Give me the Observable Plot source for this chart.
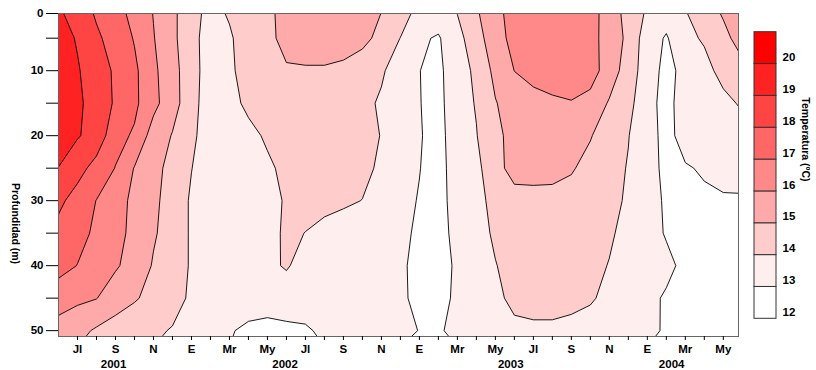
<!DOCTYPE html>
<html><head><meta charset="utf-8">
<script src="https://cdn.jsdelivr.net/npm/d3@7"></script>
<script src="https://cdn.jsdelivr.net/npm/@observablehq/plot@0.6"></script>
<style>
body{margin:0;background:#fff}
#chart{position:relative;width:816px;height:370px;overflow:hidden;background:#fff}
#main{position:absolute;left:0;top:0}
#legend{position:absolute;left:745px;top:0}
</style></head>
<body><div id="chart"><div id="main"></div><div id="legend"></div></div>
<script>
// Sampling grid: months since 1 June 2001 (columns) and depth in m (rows)
const months = [0,1,2,3,4,5,6,7,8,9,10,11,12,13,14,15,16,17,18,19,20,21,22,23,24,25,26,27,28,29,30,31,32,33,34,35,36];
const depths = [0,5,10,15,20,25,30,35,40,45,50];

// Temperature (ºC) by depth row, one value per month column
const t00 = [19.06,18.45,17.81,17.25,16.69,15.94,15.25,14.25,13.81,14.13,14.45,14.75,15.41,15.5,15.5,15.45,15.3,15.05,14.72,13.76,13.7,14.1,14.95,15.6,16.63,16.7,16.7,16.6,16.3,15.65,14.51,13.94,13.6,14.02,14.6,15.23,15.6];
const t05 = [19.4,18.92,18.15,17.64,16.93,16.05,15.22,14.34,13.51,13.9,14.4,14.75,15.3,15.35,15.35,15.25,15.2,14.79,13.98,13.15,12.9,13.73,14.5,15.75,16.19,16.5,16.6,16.5,16.16,15.8,14.7,13.5,12.9,13.8,14.09,14.7,15.45];
const t10 = [19.5,19.08,18.5,17.85,17.2,16.2,15.35,14.4,13.5,13.85,14.35,14.7,14.9,14.93,14.93,14.88,14.6,14.15,13.4,13.01,12.82,13.5,14.22,15.26,16.01,16.3,16.45,16.5,16.4,15.55,14.5,13.5,12.7,13.3,13.75,14.25,14.7];
const t15 = [19.8,19.12,18.73,17.85,17.2,16.3,15.35,14.45,13.3,13.7,14.2,14.5,14.6,14.65,14.65,14.55,14.3,13.85,13.5,13.03,12.7,13.67,14.05,14.95,15.45,15.7,15.85,15.95,15.7,14.9,14.3,13.3,12.7,13.45,13.6,13.8,14.1];
const t20 = [19.5,19.07,18.67,17.3,16.88,15.53,14.95,14.2,13.5,13.5,13.75,14.13,14.35,14.45,14.45,14.4,14.2,13.98,13.5,13.06,12.7,13.51,13.97,14.6,15.55,15.6,15.6,15.4,15.07,14.4,14.03,13.4,12.69,13.39,13.5,13.6,13.7];
const t25 = [18.98,18.4,17.6,16.97,15.95,15.3,14.69,14.02,13.5,13.3,13.55,13.85,14.21,14.35,14.35,14.3,14.15,13.9,13.45,13.02,12.7,13.41,13.79,14.55,15.49,15.45,15.35,15.1,14.65,14.3,13.95,13.4,12.75,12.92,13.1,13.3,13.35];
const t30 = [18.25,17.55,16.98,16.35,15.8,15.2,14.6,13.88,13.5,13.3,13.45,13.7,14.09,14.2,14.2,14.1,13.99,13.6,13.2,12.96,12.6,13.47,13.8,14.2,14.5,14.6,14.65,14.6,14.5,14.25,13.88,13.3,12.9,12.8,12.85,12.9,12.9];
const t35 = [17.65,17.3,16.83,16.3,15.75,15.1,14.6,13.88,13.45,13.2,13.35,13.75,14.12,13.99,13.8,13.7,13.6,13.4,13.2,12.85,12.6,13.33,13.7,14.12,14.4,14.5,14.5,14.4,14.3,14.1,13.77,13.25,12.95,12.8,12.7,12.7,12.7];
const t40 = [17.35,16.98,16.5,16.12,15.6,14.92,14.5,13.9,13.5,13.3,13.4,13.8,14.09,13.64,13.5,13.4,13.35,13.25,13.1,12.82,12.6,13.16,13.55,13.97,14.27,14.35,14.35,14.25,14.2,13.97,13.7,13.4,13.15,12.85,12.7,12.6,12.6];
const t45 = [16.45,16.2,16.03,15.45,15.1,14.7,14.35,13.85,13.5,13.3,13.3,13.3,13.5,13.4,13.3,13.25,13.2,13.15,13.1,12.85,12.6,13.23,13.5,13.8,14.22,14.3,14.3,14.2,14.08,13.81,13.5,13.15,12.93,12.7,12.6,12.5,12.5];
const t50 = [15.6,15.3,14.87,14.6,14.35,14.15,13.94,13.6,13.3,13.05,12.88,12.8,12.8,12.9,13.15,13.25,13.2,13.15,13.1,12.99,12.8,13.47,13.6,13.7,13.8,13.85,13.85,13.8,13.7,13.5,13.3,13.12,12.94,12.7,12.6,12.5,12.5];

// Contour levels and legend
const thresholds = [12,13,14,15,16,17,18,19,20];
const levelColors = ["#ffffff","#ffeeee","#ffcccc","#ffaaaa","#ff8888","#ff6666","#ff4444","#ff2222","#ff0000"];

// Axis ticks / labels
const monthTicks = [1,2,3,4,5,6,7,8,9,10,11,12,13,14,15,16,17,18,19,20,21,22,23,24,25,26,27,28,29,30,31,32,33,34,35];
const monthLabelPos = [1,3,5,7,9,11,13,15,17,19,21,23,25,27,29,31,33,35];
const monthLabels = ["Jl","S","N","E","Mr","My","Jl","S","N","E","Mr","My","Jl","S","N","E","Mr","My"];
const years = ["2001","2002","2003","2004"];
const yearPos = [2.9,11.93,23.81,32.28];
const depthTicks = [1.2,5,10,15,20,25,30,35,40,45,50];
const depthTickLabels = ["0","","10","","20","","30","","40","","50"];
const xDomain = [0,35.8];
const yDomain = [1.2,50.9];

const font = "'Liberation Sans', Arial, Helvetica, sans-serif";
const grid = [t00,t05,t10,t15,t20,t25,t30,t35,t40,t45,t50].flat();
const monthLabel = new Map(monthLabelPos.map((m,i)=>[m,monthLabels[i]]));
const depthLabel = new Map(depthTicks.map((d,i)=>[d,depthTickLabels[i]]));
const colorScale = {type:"threshold", domain: thresholds.slice(1), range: levelColors};
const dm = months[1]-months[0], dd = depths[1]-depths[0];

const main = Plot.plot({
  width: 816, height: 370,
  marginLeft: 58, marginRight: 78, marginTop: 13, marginBottom: 34,
  style: {fontFamily: font, fontSize: "11.5px", fontWeight: "bold", color: "black", background: "white"},
  x: {domain: xDomain, label: null},
  y: {domain: yDomain, reverse: true, label: null},
  color: colorScale,
  marks: [
    Plot.contour(grid, {
      width: months.length, height: depths.length,
      x1: months[0]-dm/2, x2: months[months.length-1]+dm/2,
      y1: depths[0]-dd/2, y2: depths[depths.length-1]+dd/2,
      fill: Plot.identity, stroke: "black", strokeWidth: 0.9,
      thresholds, clip: true
    }),
    Plot.frame({stroke: "#666"}),
    Plot.axisX(monthTicks, {tickSize: 4, tickPadding: 4, tickFormat: m => monthLabel.get(m) ?? "", label: null}),
    Plot.text(years, {x: yearPos, text: d => d, frameAnchor: "bottom", dy: 31}),
    Plot.axisY(depthTicks, {tickSize: 12, tickPadding: 3, tickFormat: d => depthLabel.get(d) ?? "", label: null}),
    Plot.text(["Profundidad (m)"], {frameAnchor: "left", rotate: 90, dx: -43, dy: 8, fontSize: 10.5})
  ]
});
document.getElementById("main").append(main);

const legend = Plot.plot({
  width: 71, height: 370, margin: 0,
  style: {fontFamily: font, fontSize: "11.5px", fontWeight: "bold", color: "black", background: "transparent"},
  x: {domain: [0,1], range: [9,31], axis: null},
  y: {domain: [12,21], range: [318.3,31.7], axis: null},
  color: colorScale,
  marks: [
    Plot.rect(thresholds, {x1: 0, x2: 1, y1: d => d, y2: d => d+1, fill: d => d, stroke: "#333", strokeWidth: 1}),
    Plot.text(thresholds, {x: 1, y: d => d, dx: 6, dy: -6.6, text: d => String(d), textAnchor: "start"}),
    Plot.text(["Temperatura (ºC)"], {frameAnchor: "right", rotate: 90, dx: -11, dy: -4, fontSize: 10.5})
  ]
});
document.getElementById("legend").append(legend);
</script>
</body></html>
